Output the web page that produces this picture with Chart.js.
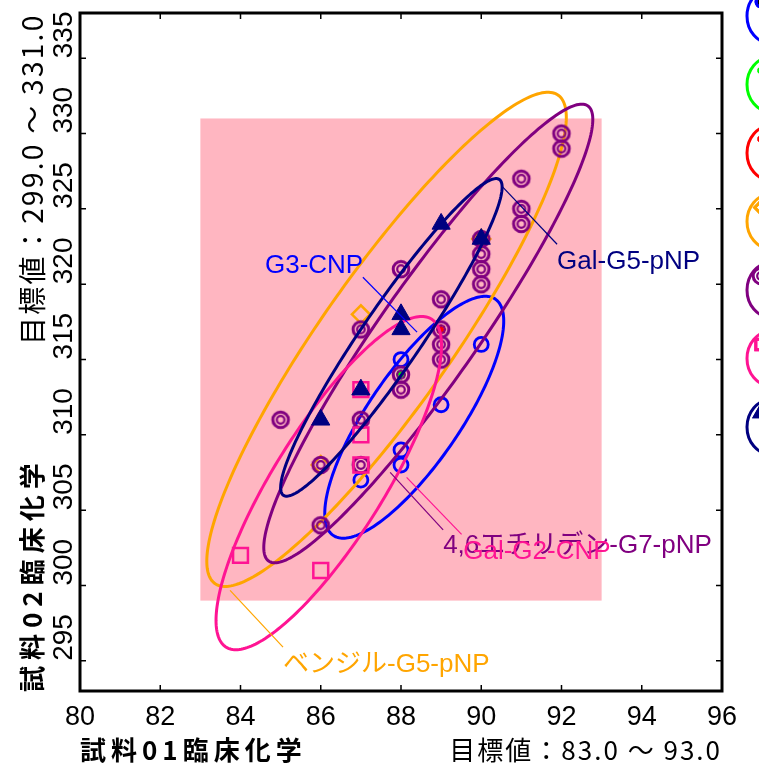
<!DOCTYPE html>
<html>
<head>
<meta charset="utf-8">
<script src="https://cdn.jsdelivr.net/npm/chart.js@4.4.0/dist/chart.umd.min.js"></script>
<style>
  html, body { margin: 0; padding: 0; background: #fff; overflow: hidden; }
</style>
</head>
<body>
<canvas id="chart" width="759" height="767"></canvas>
<script>
// series, in legend order
const seriesNames = ['G3-CNP', '系列2', '系列3', 'ベンジル-G5-pNP', '4,6エチリデン-G7-pNP', 'Gal-G2-CNP', 'Gal-G5-pNP'];
const seriesColors = ['#0000ff', '#00ff00', '#ff0000', '#ffa500', '#800080', '#ff1493', '#000080'];

const blueX = [88, 90, 89, 88, 88, 87];
const blueY = [315, 316, 312, 309, 308, 307];
const greenX = [88];
const greenY = [314];
const redX = [89];
const redY = [317];
const orangeX = [87, 86, 90];
const orangeY = [318, 308, 323];
const purpleX = [92, 92, 91, 91, 91, 90, 90, 90, 90, 89, 89, 89, 89, 88, 88, 88, 87, 87, 87, 86, 86, 85];
const purpleY = [330, 329, 327, 325, 324, 323, 322, 321, 320, 319, 317, 316, 315, 321, 314, 313, 317, 311, 308, 308, 304, 311];
const pinkX = [87, 87, 87, 84, 86];
const pinkY = [313, 310, 308, 302, 301];
const navyX = [89, 90, 88, 88, 87, 86];
const navyY = [324, 323, 318, 317, 313, 311];

// ellipse per series: centre, half ranges, correlation (null = none)
const ellCx = [88.33, null, null, 87.64, 88.68, 86.20, 87.76];
const ellCy = [311.17, null, null, 316.34, 316.73, 306.80, 316.47];
const ellSx = [2.23, null, null, 4.48, 4.10, 2.81, 2.76];
const ellSy = [8.03, null, null, 16.4, 15.22, 11.06, 10.54];
const ellR = [0.794, null, null, 0.898, 0.933, 0.824, 0.946];

// target range (pink box)
const targetX = [83.0, 93.0];
const targetY = [299.0, 331.0];

const xTicks = [80, 82, 84, 86, 88, 90, 92, 94, 96];
const yTicks = [295, 300, 305, 310, 315, 320, 325, 330, 335];

// label placement (data units): text anchor, leader from -> to
const callouts = [
  { s: 0, tx: 84.61, ty: 320.73, lx1: 87.05, ly1: 320.46, lx2: 88.40, ly2: 316.82 },
  { s: 6, tx: 91.89, ty: 320.99, lx1: 90.52, ly1: 326.49, lx2: 91.89, ly2: 322.65 },
  { s: 4, tx: 89.05, ty: 302.13, lx1: 87.73, ly1: 307.51, lx2: 89.05, ly2: 303.70 },
  { s: 5, tx: 89.55, ty: 301.78, lx1: 88.14, ly1: 307.18, lx2: 89.51, ly2: 303.39 },
  { s: 3, tx: 85.06, ty: 294.26, lx1: 83.74, ly1: 299.68, lx2: 85.06, ly2: 295.91 }
];

function ringImg(color, outer, inner) {
  const c = document.createElement('canvas');
  c.width = c.height = 24;
  const g = c.getContext('2d');
  g.strokeStyle = color;
  g.lineWidth = 3;
  g.beginPath(); g.arc(12, 12, outer, 0, Math.PI * 2); g.stroke();
  g.lineWidth = 2.2;
  g.beginPath(); g.arc(12, 12, inner, 0, Math.PI * 2); g.stroke();
  return c;
}
const doubleRing = ringImg(seriesColors[4], 7.8, 3.8);

const pts = (xs, ys) => xs.map((x, i) => ({ x: x, y: ys[i] }));
const xsAll = [blueX, greenX, redX, orangeX, purpleX, pinkX, navyX];
const ysAll = [blueY, greenY, redY, orangeY, purpleY, pinkY, navyY];
const styles = [
  { pointStyle: 'circle', pointRadius: 7, pointBorderWidth: 2.8 },
  { pointStyle: 'star', pointRadius: 5, pointBorderWidth: 2 },
  { pointStyle: 'star', pointRadius: 5, pointBorderWidth: 2 },
  { pointStyle: 'rectRot', pointRadius: 9, pointBorderWidth: 2.5 },
  { pointStyle: doubleRing, pointRadius: 8 },
  { pointStyle: 'rect', pointRadius: 10.5, pointBorderWidth: 2.5 },
  { pointStyle: 'triangle', pointRadius: 10.5, pointBorderWidth: 1 }
];

const datasets = seriesNames.map((name, i) => Object.assign({
  label: name,
  data: pts(xsAll[i], ysAll[i]),
  borderColor: seriesColors[i],
  backgroundColor: i === 6 ? seriesColors[i] : 'rgba(0,0,0,0)',
  showLine: false,
  order: 7 - i
}, styles[i]));

function ellipsePath(ctx, chart, i) {
  const sx = chart.scales.x, sy = chart.scales.y;
  const phi = Math.acos(ellR[i]);
  ctx.beginPath();
  for (let k = 0; k <= 240; k++) {
    const t = k / 240 * Math.PI * 2;
    const vx = ellCx[i] + ellSx[i] * Math.cos(t);
    const vy = ellCy[i] + ellSy[i] * Math.cos(t + phi);
    const px = sx.getPixelForValue(vx), py = sy.getPixelForValue(vy);
    if (k === 0) ctx.moveTo(px, py); else ctx.lineTo(px, py);
  }
  ctx.closePath();
}

const jp = '"Noto Sans CJK JP"';
const deco = {
  id: 'deco',
  beforeDatasetsDraw(chart) {
    const ctx = chart.ctx, sx = chart.scales.x, sy = chart.scales.y;
    const x1 = sx.getPixelForValue(targetX[0]), x2 = sx.getPixelForValue(targetX[1]);
    const y1 = sy.getPixelForValue(targetY[1]), y2 = sy.getPixelForValue(targetY[0]);
    ctx.save();
    ctx.fillStyle = '#ffb6c1';
    ctx.fillRect(x1, y1, x2 - x1, y2 - y1);
    ctx.restore();
  },
  afterDatasetDraw(chart, args) {
    const i = args.index;
    if (ellCx[i] == null) return;
    const ctx = chart.ctx;
    ctx.save();
    ctx.strokeStyle = seriesColors[i];
    ctx.lineWidth = 3;
    ellipsePath(ctx, chart, i);
    ctx.stroke();
    ctx.restore();
  },
  afterDraw(chart) {
    const ctx = chart.ctx, sx = chart.scales.x, sy = chart.scales.y;
    const a = chart.chartArea;
    ctx.save();

    // callouts
    ctx.textAlign = 'left';
    ctx.textBaseline = 'alphabetic';
    ctx.font = '26px "Liberation Sans", ' + jp;
    callouts.forEach(c => {
      ctx.strokeStyle = seriesColors[c.s];
      ctx.lineWidth = 1.2;
      ctx.beginPath();
      ctx.moveTo(sx.getPixelForValue(c.lx1), sy.getPixelForValue(c.ly1));
      ctx.lineTo(sx.getPixelForValue(c.lx2), sy.getPixelForValue(c.ly2));
      ctx.stroke();
      ctx.fillStyle = seriesColors[c.s];
      ctx.fillText(seriesNames[c.s], sx.getPixelForValue(c.tx), sy.getPixelForValue(c.ty));
    });

    // frame + inward ticks
    ctx.strokeStyle = '#000';
    ctx.lineWidth = 1.5;
    xTicks.forEach(v => {
      const x = sx.getPixelForValue(v);
      ctx.beginPath();
      ctx.moveTo(x, a.bottom); ctx.lineTo(x, a.bottom - 6);
      ctx.moveTo(x, a.top); ctx.lineTo(x, a.top + 6);
      ctx.stroke();
    });
    yTicks.forEach(v => {
      const y = sy.getPixelForValue(v);
      ctx.beginPath();
      ctx.moveTo(a.left, y); ctx.lineTo(a.left + 6, y);
      ctx.moveTo(a.right, y); ctx.lineTo(a.right - 6, y);
      ctx.stroke();
    });
    ctx.lineWidth = 3;
    ctx.strokeRect(a.left, a.top, a.right - a.left, a.bottom - a.top);

    // tick labels
    ctx.fillStyle = '#000';
    ctx.font = '27px "Liberation Sans"';
    ctx.textAlign = 'center';
    ctx.textBaseline = 'middle';
    xTicks.forEach(v => ctx.fillText(String(v), sx.getPixelForValue(v), a.bottom + 27));
    ctx.font = '28px "Liberation Sans"';
    ctx.textAlign = 'left';
    yTicks.forEach(v => {
      ctx.save();
      ctx.translate(64, sy.getPixelForValue(v));
      ctx.rotate(-Math.PI / 2);
      ctx.fillText(String(v), 0, 0);
      ctx.restore();
    });

    // axis titles
    ctx.textBaseline = 'middle';
    ctx.font = 'bold 26px ' + jp;
    ctx.letterSpacing = '5px';
    ctx.textAlign = 'left';
    ctx.fillText('試料01臨床化学', 80, 750);
    ctx.font = '26px ' + jp;
    ctx.letterSpacing = '2px';
    ctx.textAlign = 'right';
    ctx.fillText('目標値：83.0 ～ 93.0', 722, 750);

    ctx.save();
    ctx.translate(32, 692);
    ctx.rotate(-Math.PI / 2);
    ctx.textAlign = 'left';
    ctx.font = 'bold 26px ' + jp;
    ctx.letterSpacing = '6px';
    ctx.fillText('試料02臨床化学', 0, 0);
    ctx.restore();

    ctx.save();
    ctx.translate(32, 345);
    ctx.rotate(-Math.PI / 2);
    ctx.textAlign = 'left';
    ctx.font = '28px ' + jp;
    ctx.letterSpacing = '2.3px';
    ctx.fillText('目標値：299.0 ～ 331.0', 0, 0);
    ctx.restore();
    ctx.letterSpacing = '0px';

    // legend icons (clipped at the right edge)
    seriesNames.forEach((name, i) => {
      const cy = 16 + i * 68.5;
      ctx.strokeStyle = seriesColors[i];
      ctx.lineWidth = 3;
      ctx.beginPath();
      ctx.ellipse(770, cy, 23, 27, 0, 0, Math.PI * 2);
      ctx.stroke();
      const st = styles[i];
      const r = typeof st.pointStyle === 'string' ? st.pointRadius * 0.7 : 0;
      if (r) {
        Chart.helpers.drawPoint(ctx, {
          pointStyle: st.pointStyle, radius: r, borderWidth: st.pointBorderWidth || 1, rotation: 0
        }, 761, cy - 14);
        ctx.fillStyle = i === 6 ? seriesColors[i] : 'rgba(0,0,0,0)';
        if (i === 6) ctx.fill();
        ctx.stroke();
      } else {
        ctx.drawImage(doubleRing, 761 - 12, cy - 14 - 12);
      }
    });
    ctx.restore();
  }
};

new Chart(document.getElementById('chart').getContext('2d'), {
  type: 'scatter',
  data: { datasets: datasets },
  options: {
    responsive: false,
    animation: false,
    layout: { padding: { left: 80, right: 37, top: 11, bottom: 76 } },
    plugins: { legend: { display: false }, tooltip: { enabled: false } },
    scales: {
      x: { type: 'linear', min: 80, max: 96, display: false },
      y: { type: 'linear', min: 293, max: 338, display: false }
    }
  },
  plugins: [deco]
});
</script>
</body>
</html>
